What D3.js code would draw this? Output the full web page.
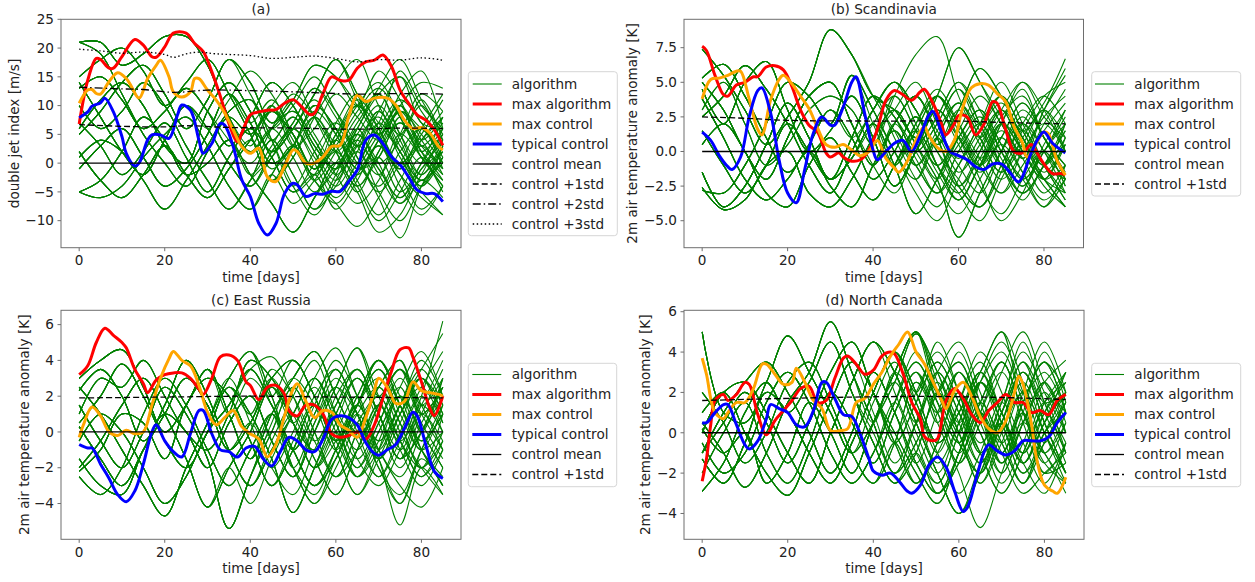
<!DOCTYPE html>
<html>
<head>
<meta charset="utf-8">
<script src="https://cdn.jsdelivr.net/npm/d3@7"></script>
<style>
  body { margin: 0; background: #fff; }
  svg text { font-family: "DejaVu Sans", sans-serif; font-size: 13.6px; fill: #222; }
</style>
</head>
<body>
<svg id="fig" width="1255" height="582"></svg>
<script>
// sampling of the algorithm trajectories (every 5 days)
const days = d3.range(0, 86, 5);
const xTicks = [0, 20, 40, 60, 80];
const meanLine = [[0, 0], [85, 0]];

// ---------- (a) double jet index ----------
const aAlgo = [
  [21, 19, 12, 5, 0, -4, 2, 8, 5, 10, 3, 6, 12, 8, 4, 9, 6, 3],
  [21, 21, 17, 19, 22, 22, 17, 8, 2, 6, 9, 4, -2, 3, 9, 2, -3, 1],
  [15, 18, 20, 16, 10, 14, 18, 12, 5, -3, 1, 8, 14, 18, 10, 5, 11, 4],
  [14, 8, 2, -2, 4, 10, 6, 0, -4, 2, 7, 13, 9, 3, -2, 5, 12, 9],
  [13, 15, 11, 6, 9, 13, 9, 3, 8, 14, 10, 3, -1, 6, 12, 15, 7, 6],
  [10, 6, 9, 14, 10, 3, -3, -8, -3, 4, -2, -8, -4, 2, -5, -10, -4, 0],
  [7, 3, -2, 2, 7, 1, -5, 1, 6, 1, -5, -2, 4, -3, -9, -3, 3, -2],
  [5, 9, 14, 17, 12, 6, 11, 18, 14, 7, 11, 17, 15, 10, 16, 11, 4, 8],
  [2, -3, -6, -2, 3, -2, -6, -1, 4, 9, 5, -1, 5, 10, 4, -2, -6, -9],
  [1, 4, 2, -3, -8, -3, 3, 9, 11, 4, -4, -9, -3, 4, 8, 1, -4, 3],
  [-1, 3, 6, 1, -4, -1, 5, 12, 7, 0, 3, 10, 6, -1, 1, 8, 2, -5],
  [-5, -6, -4, 1, 5, 8, 3, -4, -8, -2, 3, -3, -7, -11, -6, 0, -5, -9],
  [-5, -3, 2, 8, 4, -2, 0, 4, -2, -7, -12, -6, 0, -5, -12, -9, -3, -6],
  [6, 11, 14, 10, 3, 0, 9, 14, 9, 2, 6, 12, 18, 12, 5, 10, 14, 13]
];
// cloned trajectories: parent index, day of branching, values from that day on
const aBranch = [
  {p: 4, at: 30, v: [9, 4, 0, 6, 12, 8, 2, -4, 2, 9, 5, 0]},
  {p: 7, at: 35, v: [18, 12, 6, 10, 15, 9, 3, 7, 16, 10, 6]},
  {p: 1, at: 35, v: [8, 3, 9, 4, -3, 2, 8, 12, 5, -2, 3]},
  {p: 3, at: 40, v: [-4, 1, 6, 0, -6, -1, 5, 10, 4, -1]},
  {p: 10, at: 40, v: [7, 11, 5, -1, 3, 9, 13, 8, 2, 6]},
  {p: 9, at: 45, v: [4, 8, 2, -5, 0, 6, 11, 7, 1]},
  {p: 0, at: 45, v: [10, 14, 8, 2, 7, 13, 18, 11, 5]},
  {p: 6, at: 50, v: [-5, 0, 6, 1, -6, -13, -4, 2]},
  {p: 13, at: 50, v: [6, 1, -4, 2, 9, 3, -2, 4]},
  {p: 8, at: 55, v: [-1, 7, 12, 6, 0, 5, 11]},
  {p: 5, at: 55, v: [-8, -2, 5, 0, -7, -2, 6]},
  {p: 2, at: 55, v: [8, 3, -2, 4, 10, 3, 7]},
  {p: 4, at: 60, v: [-1, 5, 10, 4, -3, 3]},
  {p: 11, at: 60, v: [-7, -2, 3, -4, -9, -4]},
  {p: 12, at: 65, v: [-5, 2, 7, 1, -4]},
  {p: 7, at: 65, v: [10, 4, -1, 6, 12]},
  {p: 10, at: 70, v: [1, -5, 0, 8]},
  {p: 13, at: 70, v: [5, 12, 16, 6]},
  {p: 1, at: 60, v: [-2, -7, -3, 5, 1, -4]},
  {p: 3, at: 30, v: [6, 11, 16, 12, 5, -1, 4, 10, 14, 8, 1, -3]},
  {p: 8, at: 40, v: [4, -1, 3, 8, 2, -4, 1, 7, 2, -2]},
  {p: 2, at: 45, v: [-3, 3, 9, 5, -1, 4, 9, 3, -1]},
  {p: 11, at: 45, v: [-2, -7, -3, 2, -4, -10, -5, 1, -3]},
  {p: 12, at: 40, v: [-2, 3, 8, 2, -3, 3, -1, -6, 0, 5]},
  {p: 5, at: 40, v: [-3, 1, 6, 11, 5, 0, 7, 2, -4, 1]},
  {p: 0, at: 50, v: [3, -2, 4, 10, 6, -1, 4, 9]},
  {p: 9, at: 50, v: [-4, 2, 7, 1, -5, 0, 6, -1]},
  {p: 6, at: 55, v: [-2, -8, -3, 3, -2, -8, -4]},
  {p: 3, at: 55, v: [13, 8, 3, 9, 15, 9, 4]},
  {p: 7, at: 50, v: [11, 5, 0, 6, 12, 5, 0, 5]},
  {p: 10, at: 60, v: [6, 0, -4, 2, 6, 0]},
  {p: 13, at: 60, v: [18, 11, 5, 0, 4, 8]},
  {p: 1, at: 45, v: [6, 1, -5, 0, 5, -1, -6, -1, 4]},
  {p: 4, at: 65, v: [6, 0, 4, 10, 3]},
  {p: 8, at: 60, v: [5, 11, 7, 2, -3, 1]},
  {p: 12, at: 55, v: [-6, -1, 4, -2, -7, -1, 2]}
];
const aMaxAlgo = [[0, 6.8], [2, 14.4], [4, 18.2], [5, 18.0], [7, 16.5], [8, 16.5], [10, 18.5], [13, 21.5], [15, 20.5],
  [17, 18.5], [18, 18.4], [20, 20.2], [22, 22.6], [25, 22.6], [27, 20.8], [29, 19.4], [31, 15.9], [33, 11.6], [35, 6.9],
  [37, 3.7], [38, 5.2], [40, 8.4], [42, 8.9], [44, 9.2], [46, 9.3], [48, 10.4], [50, 11.0], [52, 9.8], [54, 8.4], [55, 8.7],
  [57, 12.1], [59, 15.0], [61, 14.4], [63, 14.4], [65, 16.5], [67, 17.6], [69, 17.9], [71, 18.8], [73, 16.8], [75, 12.7],
  [77, 10.4], [79, 8.4], [81, 7.5], [83, 5.8], [85, 3.1]];
const aMaxCtrl = [[0, 10.4], [2, 12.7], [3, 12.8], [4, 12.1], [5, 12.0], [7, 14.2], [9, 15.7], [11, 14.7], [12, 13.6],
  [14, 11.3], [16, 14.7], [18, 17.0], [19, 17.9], [21, 15.0], [22, 12.4], [24, 11.5], [26, 12.4], [27, 14.7], [28, 14.7],
  [30, 12.7], [32, 11.0], [34, 8.7], [36, 5.8], [38, 2.9], [40, 1.7], [42, 2.6], [44, -2.4], [46, -3.2], [48, -0.6],
  [50, 2.3], [51, 2.0], [53, 0], [55, 0], [57, 1.1], [59, 2.9], [61, 3.1], [63, 8.1], [65, 11.8], [67, 10.7], [69, 11.3],
  [72, 11.3], [74, 10.1], [76, 7.5], [78, 6.0], [80, 6.2], [82, 5.2], [84, 2.9], [85, 2.3]];
const aTypical = [[0, 7.9], [2, 8.9], [3, 9.9], [5, 10.5], [6, 11.3], [8, 8.9], [10, 4.6], [11, 1.7], [13, -0.5], [14, 0],
  [16, 4.0], [17, 4.9], [19, 4.9], [21, 4.3], [23, 8.4], [24, 10.1], [26, 9.2], [28, 4.0], [29, 1.7], [31, 3.4], [33, 6.9],
  [34, 6.6], [36, 2.9], [38, -2.9], [40, -5.8], [42, -10.5], [44, -12.5], [46, -10.5], [48, -5.3], [50, -3.5], [51, -3.8],
  [53, -5.8], [55, -5.3], [57, -5.4], [59, -4.9], [61, -4.9], [63, -3.2], [65, -1.2], [67, 4.0], [69, 4.9], [71, 3.4],
  [73, 1.1], [75, -0.3], [77, -2.4], [79, -4.7], [81, -5.3], [83, -5.3], [85, -6.7]];
const aStd1 = [[0, 6.7], [10, 6.4], [20, 6.3], [25, 6.5], [35, 6.2], [50, 6.1], [65, 5.9], [75, 6.1], [85, 6.0]];
const aStd2 = [[0, 13.2], [10, 12.9], [15, 12.8], [22, 12.3], [30, 12.7], [40, 12.6], [50, 12.4], [65, 12.0], [75, 12.1], [85, 12.0]];
const aStd3 = [[0, 19.8], [5, 19.5], [10, 19.1], [15, 19.3], [20, 18.9], [22, 18.4], [25, 19.0], [28, 19.3], [32, 19.0],
  [40, 18.7], [45, 18.2], [50, 18.4], [55, 18.6], [60, 18.2], [65, 17.6], [70, 18.0], [75, 17.9], [80, 18.3], [85, 17.9]];

// ---------- (b) Scandinavia ----------
const bAlgo = [
  [7.4, 5.5, 3, 0.5, 2.5, 5, 8.8, 7, 4, 3, 1, 4, 7.5, 5, 2, 0, 3, 5.5],
  [5.3, 6.3, 4, 1, -1.5, 0.5, 3, 1, -2, 0, 2.5, -1, -3, 0, 3, 1, -2, -1],
  [5, 3, 0, -2, 1, 4, 5, 2, -1, 2, 4, 1, -2.5, -4, -1, 2, 4, 2],
  [3.8, 1, -2, -3.5, -2, 0, -2.5, -4, -1, 1.5, -1, -3, 0, 2, -0.5, -3, -1, 1.5],
  [2.5, 4, 6.2, 4.5, 2, -1, -3, 0, 3, 5, 3, 0.5, 3, 6, 4, 1.5, 3.5, 6.7],
  [1.5, -1, -3, -1, 2, 0, -2, 1, 4, 2.5, 0, 2, 4.5, 2, -1, -3.5, -1, 0.5],
  [-1.5, -4, -2.5, 0.5, 3.5, 1, -2, -0.5, 2, -1, -4.5, -2, 1, -2, -5, -3, 0, -2.5],
  [-2.6, -4.2, -3.5, -1, 0, -3, -4, -2, 1, 3, 0.5, -2, -6.2, -3, 0, 2, -1, -3.5],
  [-2.8, -3, -1, 2, 5, 4, 2, 5.5, 3, 0, -2, 1, 3.5, 1, -1.5, 1, 3, 0],
  [4.5, 2, 5, 6.5, 3, 0, 1.5, 4, 1, -2.5, 0, 3, 1, -1, 2, 4.5, 1, -1],
  [0.5, 2, 0, -3, -4, -1, 1, -1.5, -3.5, -1, 1.5, -1, -3.5, -1, 1, -1.5, -4, -2],
  [3, 5, 2, -1, 0.5, 3, 4, 3, 0.5, 4, 7, 8.3, 4, 1, 3, 0, -2, 1]
];
const bBranch = [
  {p: 1, at: 35, v: [1, 3, 5, 2, -1, 1.5, 4, 2, -0.5, 2, 4.5]},
  {p: 2, at: 35, v: [2, -1, -3, 0, 2.5, 5, 3, 0, -2.5, 0, 2]},
  {p: 3, at: 40, v: [-1, 2, 4, 1.5, -1, -3, 0, 3, 1, -2]},
  {p: 5, at: 40, v: [4, 1, -2, -4, -1, 2, 5, 2, -1, -3.5]},
  {p: 6, at: 45, v: [-1, 2, 4.5, 2, -1, 1, 3.5, 1, -1.5]},
  {p: 8, at: 45, v: [0, -3, -5, -2, 1, 3, 0, -2, -4]},
  {p: 9, at: 50, v: [0, 2.5, 5, 2, -1, 1.5, 4, 5]},
  {p: 4, at: 50, v: [3, 0, -2, -4, -1.5, 2, 0, -3]},
  {p: 10, at: 50, v: [1.5, 4, 2, -0.5, 2, 5, 3, 0]},
  {p: 0, at: 55, v: [4, 1, -1.5, 1, 3.5, 1, -2]},
  {p: 7, at: 55, v: [-2, 1, 3, 0.5, -2, 0, 2.5]},
  {p: 2, at: 60, v: [-2.5, 0, 2.5, 4, 1, -1]},
  {p: 1, at: 60, v: [-3, -5, -2, 0.5, -2, -4]},
  {p: 5, at: 65, v: [2, 4, 1.5, -1, 1]},
  {p: 3, at: 65, v: [2, -1, -3, -1, 2]},
  {p: 9, at: 70, v: [2, -0.5, 3, 6]},
  {p: 4, at: 70, v: [4, 1, -1, 2]},
  {p: 6, at: 60, v: [1, 3, 0, -2, -4, -1]},
  {p: 8, at: 35, v: [5.5, 2, -1, 1.5, 4, 2, -0.5, -3, -1, 1.5, 3.5]},
  {p: 10, at: 40, v: [-3.5, -1, 2, 4, 1.5, -1, -3, 0, 2, 0]},
  {p: 0, at: 40, v: [4, 1.5, -1, 1, 3.5, 1.5, -1, -3, -1, 1.5]},
  {p: 2, at: 45, v: [2, -0.5, -3, -1, 1.5, 3.5, 1, -1.5, 0.5]},
  {p: 6, at: 40, v: [2, 4, 1.5, -1.5, -3.5, -1, 2, 0.5, -2, -3]},
  {p: 7, at: 45, v: [3, 5, 2, -0.5, 2, 4, 1.5, -1, -2]},
  {p: 11, at: 45, v: [4, 1.5, -1, 1, 3, 0.5, -2, 0, 3]},
  {p: 3, at: 50, v: [-1, 1.5, 3.5, 1, -1.5, 0.5, 3, 1]},
  {p: 9, at: 55, v: [3, 0.5, -2.5, -4.5, -2, 0, -2.5]},
  {p: 5, at: 50, v: [0, -2.5, -4.5, -2, 0.5, -1.5, -3.5, -2]},
  {p: 8, at: 55, v: [1, -1.5, 0.5, 3, 5, 2.5, 1]},
  {p: 4, at: 60, v: [3, 0.5, -2, 0, 2.5, 4]},
  {p: 10, at: 60, v: [-3.5, -1, 1.5, -0.5, -3, -1]},
  {p: 1, at: 45, v: [0, 2.5, 0, -2.5, -0.5, 2, 0, -2.5, -4]},
  {p: 0, at: 65, v: [5, 2.5, 0, -2, 0.5]},
  {p: 6, at: 55, v: [-2, 0.5, 2.5, 0, -2.5, 0.5, 3]},
  {p: 2, at: 70, v: [-1, 1.5, -1, -3]},
  {p: 7, at: 65, v: [-3, 0, 2.5, 0, -2]}
];
const bMaxAlgo = [[0, 7.6], [1, 7.3], [3, 5.5], [5, 4.1], [6, 4.0], [8, 4.8], [10, 5.0], [12, 5.4], [13, 5.4], [15, 6.1],
  [17, 6.2], [19, 5.9], [21, 4.7], [23, 3.0], [25, 1.9], [27, 1.4], [29, -0.1], [30, -0.4], [32, -0.1], [33, -0.4],
  [35, -0.7], [37, -0.6], [39, 0.1], [41, 1.6], [43, 3.7], [45, 4.4], [47, 4.1], [49, 3.7], [51, 4.3], [52, 4.5],
  [54, 3.5], [56, 2.0], [57, 1.2], [59, 2.0], [60, 2.6], [62, 2.5], [64, 1.2], [66, 2.0], [68, 3.6], [69, 3.5], [71, 1.6],
  [73, 0], [75, -0.1], [77, 0.5], [78, 0.1], [80, -0.9], [82, -1.6], [84, -1.6], [85, -1.7]];
const bMaxCtrl = [[0, 3.8], [2, 5.2], [4, 5.3], [6, 5.5], [8, 5.8], [9, 5.8], [11, 3.8], [13, 1.6], [14, 1.2], [16, 3.7],
  [18, 5.2], [19, 5.5], [21, 4.9], [23, 4.0], [25, 3.1], [27, 1.7], [29, 0.5], [31, 0.3], [33, 0.5], [35, 0.1], [37, -0.3],
  [39, 0], [41, 0.8], [43, -0.5], [45, -1.2], [46, -1.5], [48, -0.7], [50, 0.8], [52, 1.8], [53, 1.2], [55, 0.3], [57, 0],
  [59, 0.8], [61, 3.2], [63, 4.6], [65, 4.9], [67, 4.8], [69, 4.2], [71, 3.6], [73, 1.8], [75, 0.6], [76, -0.4], [78, 0.5],
  [80, 1.4], [81, 1.3], [83, -0.6], [85, -1.7]];
const bTypical = [[0, 1.4], [2, 0.8], [4, -0.3], [6, -1.1], [7, -1.3], [9, -0.4], [11, 2.5], [13, 4.4], [14, 4.6], [16, 2.8],
  [18, -0.6], [20, -3.0], [22, -3.7], [24, -1.3], [26, 1.3], [28, 2.5], [30, 1.9], [31, 1.9], [33, 3.2], [35, 5.0], [36, 5.4],
  [38, 2.8], [40, 0.1], [41, -0.6], [43, 0], [45, 0.6], [47, 0.8], [49, 0], [51, 1.1], [53, 2.6], [54, 2.9], [56, 1.4],
  [58, 0], [60, -0.3], [62, -0.6], [64, -1.1], [66, -1.3], [68, -0.9], [70, -0.9], [72, -1.5], [74, -2.2], [75, -1.8],
  [77, -0.1], [79, 1.1], [80, 1.4], [82, 0.6], [84, 0.1], [85, -0.1]];
const bStd1 = [[0, 2.5], [10, 2.4], [20, 2.25], [40, 2.2], [60, 2.2], [70, 2.1], [85, 2.0]];

// ---------- (c) East Russia ----------
const cAlgo = [
  [3, 4, 4.6, 2.5, 0, 1.5, 3.5, 1, -1.5, 1, 3, 4.5, 2, 0, 2.5, 4, 1.5, 3],
  [2.5, 1, -1, -3, -4.7, -2, 0.5, 3, 4.5, 2, -1, 1, 3.5, 1, -1.5, 1, 3, 0.5],
  [2.3, 3.5, 2, -0.5, 1.5, 4, 2, -1, -3, -1, 1, 3, 0.5, -2, 0, 2.5, 4.5, 2],
  [1.5, -0.5, -2, 0, 2.5, 1, -1.5, -5.4, -2.5, 0, 2.5, 0, -2.5, -1, 1.5, -1, -3, -1],
  [0.5, 2, 3.8, 2, -0.5, -2, 0, 2.5, 1, -1.5, -4.5, -2, 1, 3, 0.5, -2, 0.5, 2.5],
  [0.3, -1.5, -3, -1, 1, 3, 1.5, -1, 0.5, 3, 4, 2, -0.5, 1.5, 4, 2, -0.5, 1],
  [-0.5, 1, 0, -2, -4, -2.5, 0, 1.5, 3.5, 1.5, -1, -3, -1.5, 1, -1.5, -5.2, -2, -3.5],
  [-1.5, -3, -3.5, -1, 1, 0, -2, 0.5, 2, -0.5, -2.5, 0, 2.5, 4.7, 2, -0.5, 1.5, 4],
  [-2, -0.5, 1.5, 3, 1, -1.5, -4.2, -2, 0, 2.5, 0.5, -2, 0, 2, -1, 1.5, 3.5, 1.5],
  [-2.2, -1, 1, 0.5, -1.5, 1.5, 3, 2, -0.5, -3, -1, 1.5, -1, -3.5, -1, 2, 0, -2],
  [1, 3, 2.5, 4, 2, 0, -1, 1, 4, 3, 0.5, -1, 2, 3.5, 1, -1, 2, 6.2],
  [-2.5, -3.5, -2, 1, 3, 1.5, -1, -3, -1, 1, -2, -4, -1.5, 0.5, -2, -4, -1.5, -3]
];
const cBranch = [
  {p: 0, at: 35, v: [1, 3, 1.5, -1, 1.5, 4, 2, -0.5, 1.5, 3.5, 5.5]},
  {p: 1, at: 35, v: [3, 0.5, -2, 0, 2.5, 0, -2.5, -1, 1.5, 3, 1]},
  {p: 2, at: 40, v: [-3, -0.5, 2, 4, 1, -1.5, 0.5, 3, 0.5, -1.5]},
  {p: 4, at: 40, v: [1, 3.5, 2, -0.5, -2.5, 0, 2.5, 4, 1, 2.5]},
  {p: 5, at: 45, v: [3, 0.5, -2, -0.5, 2, 4, 1.5, -1, 0]},
  {p: 3, at: 45, v: [0, -2, -3.5, -1, 1.5, -1, -3, -4.2, -2]},
  {p: 7, at: 50, v: [-2.5, 0.5, 3, 1, -2, -3.5, -1, 1]},
  {p: 8, at: 50, v: [0.5, 3, 4.7, 2, -0.5, 1.5, 4, 2]},
  {p: 9, at: 50, v: [-1, 1.5, -0.5, -2.5, 0, 2, -1, -3]},
  {p: 6, at: 55, v: [-3, -1, 1.5, 3, 0.5, -2, -0.5]},
  {p: 10, at: 55, v: [-1, 1.5, 3.5, 1, -1.5, 0, 3]},
  {p: 11, at: 55, v: [-4, -2, 0.5, 2, -0.5, -2, 0]},
  {p: 0, at: 60, v: [2, -0.5, -2.5, 0, 2.5, 4.5]},
  {p: 5, at: 60, v: [-0.5, 2, 4, 1.5, -1, -2.5]},
  {p: 2, at: 65, v: [-2, 0.5, 2.5, 0, 3]},
  {p: 4, at: 65, v: [3, 1, -1.5, 1, -0.5]},
  {p: 1, at: 70, v: [-1.5, -4, -1, 1.5]},
  {p: 7, at: 70, v: [2, 3.5, 1, 2.5]},
  {p: 8, at: 35, v: [-2, -4, -1.5, 1, 3, 1, -1, 1.5, 3.5, 1, -1]},
  {p: 6, at: 40, v: [3.5, 4.2, 2, -0.5, 1.5, 3.5, 1, -1.5, 0, 2]},
  {p: 0, at: 45, v: [1, -1, -3, -1, 1.5, 3.5, 1, -1, 1.5]},
  {p: 1, at: 45, v: [2, 4, 2, -0.5, 1.5, -1, -2.5, 0, 2.5]},
  {p: 3, at: 40, v: [-2.5, 0.5, 3, 1.5, -1, 1.5, 3.5, 1.5, -0.5, 1]},
  {p: 5, at: 40, v: [0.5, -2, -3.5, -1, 1, -1.5, -3, -1, 1.5, 0]},
  {p: 9, at: 45, v: [-3, -0.5, 2, 3.5, 1, -1.5, 1, 3, 1]},
  {p: 10, at: 45, v: [3, 1, -1.5, -3.5, -1, 1.5, -0.5, -2.5, -0.5]},
  {p: 11, at: 50, v: [-2, 0.5, 2.5, 0, -2.5, -0.5, 2, 0]},
  {p: 2, at: 50, v: [1, -1.5, -3.5, -1, 1.5, 3.5, 1.5, -1]},
  {p: 4, at: 55, v: [-2, 0.5, 3, 1, -1.5, 1, 3.5]},
  {p: 6, at: 60, v: [-1.5, 1, 2.5, 0, -2, -3.5]},
  {p: 7, at: 55, v: [0, 2.5, 1, -1.5, 0.5, 3, 1.5]},
  {p: 8, at: 60, v: [0, -2.5, -0.5, 2, 0, -2]},
  {p: 3, at: 60, v: [-2.5, 0, 2, -0.5, -2.5, -1]},
  {p: 0, at: 65, v: [0, 2.5, 0.5, -2, 1]},
  {p: 9, at: 65, v: [-3.5, -1.5, 1, 2.5, 0.5]},
  {p: 5, at: 70, v: [4, 1.5, -1, -3]}
];
const cMaxAlgo = [[0, 3.2], [2, 3.7], [4, 5.0], [6, 5.8], [8, 5.4], [10, 5.0], [11, 4.7], [13, 3.5], [15, 2.7], [16, 2.2],
  [18, 2.9], [20, 3.2], [22, 3.3], [24, 3.3], [26, 3.0], [28, 2.4], [29, 2.1], [31, 3.0], [33, 4.2], [35, 4.3], [37, 4.0],
  [39, 2.8], [40, 2.6], [42, 1.8], [44, 2.5], [46, 2.6], [48, 2.1], [49, 1.2], [51, 0.9], [53, 1.5], [55, 1.5], [57, 1.0],
  [59, -0.1], [61, -0.3], [63, -0.2], [65, 0], [67, -0.4], [69, 0.4], [71, 1.9], [73, 3.4], [75, 4.6], [77, 4.7], [78, 4.2],
  [80, 2.8], [82, 1.3], [83, 0.9], [85, 2.0]];
const cMaxCtrl = [[0, -0.3], [1, 0.4], [3, 1.4], [5, 0.9], [7, 0], [9, -0.2], [11, 0.1], [13, -0.1], [15, 0], [17, 1.5],
  [19, 3.0], [21, 4.1], [22, 4.5], [24, 4.0], [26, 3.7], [28, 2.6], [30, 1.1], [32, 0.4], [34, 0.8], [36, 1.2], [38, 0.3],
  [40, -0.1], [42, -0.4], [44, -1.4], [46, -0.7], [48, 0.9], [50, 2.4], [51, 2.7], [53, 1.7], [55, 0.8], [57, 1.2], [59, 1.1],
  [61, 0.4], [63, 0.1], [65, -0.3], [67, 0.8], [69, 2.3], [70, 3.0], [72, 2.5], [74, 1.6], [76, 1.7], [78, 2.8], [80, 2.3],
  [82, 2.2], [84, 2.1], [85, 2.0]];
const cTypical = [[0, -0.7], [2, -0.9], [3, -0.9], [5, -1.8], [7, -2.6], [9, -3.5], [11, -3.9], [13, -3.3], [15, -1.8],
  [17, 0], [18, 0.4], [20, -0.5], [22, -1.1], [24, -1.4], [26, -0.1], [28, 1.2], [29, 1.2], [31, -0.1], [33, -1.0], [35, -1.1],
  [37, -1.4], [39, -0.9], [41, -0.8], [43, -1.5], [45, -1.9], [47, -1.1], [49, -0.3], [51, -0.5], [53, -1.0], [55, -1.1],
  [57, -0.4], [59, 0.7], [61, 0.9], [63, 0.8], [65, 0.4], [67, -0.6], [69, -1.2], [70, -1.3], [72, -1.0], [74, -0.7],
  [76, 0.2], [78, 1.1], [79, 0.9], [81, -0.7], [83, -2.2], [85, -2.6]];
const cStd1 = [[0, 1.9], [20, 1.95], [40, 2.0], [60, 1.95], [85, 1.9]];

// ---------- (d) North Canada ----------
const dAlgo = [
  [5, 1, 0.5, 2.5, 4.8, 3, 1, -1, 0.5, 2.5, 4.9, 3, 0.5, -1.5, 1, 3.5, 1.5, 2],
  [1, 2, 0, -2, -3.1, -1, 1.5, 3.5, 2, -0.5, 1.5, 3.5, 1.5, -1, 1.5, 4, 2, 0],
  [0.5, -1, -2.7, -1, 1.5, 3, 5.5, 3, 0.5, -2, -0.5, 2, 3.5, 1, -2, 0.5, 2.5, 3.6],
  [0, 2, 2.5, 1, -1, -2.5, 0, 2.5, 4.5, 3, 0.5, -2, -4, -2, 0.5, 3, 1, -1.5],
  [-0.5, -2, -1, 1.5, 3, 1.5, -1, -2.5, -1, 1.5, 3.5, 1.5, -0.5, 2.5, 4.5, 2, -1, 0.5],
  [-1, 0.5, 2, 0.5, -1.5, 0.5, 3, 4.5, 2, 0, -2, -3.5, -1, 1.5, -0.5, -2.5, -0.5, 1.5],
  [-1.3, -2.5, -0.5, 2, 1, -1, -2.5, -0.5, 2, 4, 2, -0.5, 1, 3, 5, 2.5, 0, -2],
  [-2, 0, 1.5, -1, -2.5, -0.5, 2, 0.5, -1.5, 1, 3, 0.5, -2, -4.7, -2, 0.5, -1, -3],
  [-2.9, -1.5, 1, 2.5, 1, 2.5, 4.5, 2, -0.5, -2.5, -1, 2, 0, -2.5, 0, 2, -0.5, 2],
  [2, 0.5, -1.5, 0, 2.5, 3.5, 1.5, -1, -2.5, -0.5, 2.5, 1, -1.5, 0.5, 3, 5, 2.5, 1],
  [-1, 1, 2.5, 3.5, 2, 0, -2, 0, 3, 1, -1.5, -3, -1.5, 1, -1, -3, -2, -1],
  [0.2, -1, 0, -2.5, -1, 1.5, 0, -2, 0.5, 3, 5, 2, -0.5, -2, 0.5, -1.5, -3, -0.5]
];
const dBranch = [
  {p: 0, at: 35, v: [-1, 1.5, 3.5, 1, -1.5, 0.5, 3, 1, -1, 1.5, 3]},
  {p: 1, at: 35, v: [3.5, 1, -1.5, 0.5, 2.5, 0, -2.5, -0.5, 2, 0, -2]},
  {p: 2, at: 40, v: [0.5, 3, 1.5, -1, 1.5, 4, 2, -1, 1, 2.5]},
  {p: 3, at: 40, v: [4.5, 2, -0.5, -2.5, 0, 2.5, 1, -1.5, 0.5, 2]},
  {p: 4, at: 45, v: [1.5, -1, -2.5, 0, 2.5, 0.5, -2, 0, 1.5]},
  {p: 5, at: 45, v: [0, 2, 4, 2, -0.5, 1.5, 4.5, 1.5, -1]},
  {p: 6, at: 50, v: [2, 4.5, 2, -1, 1, 3, 0.5, -2]},
  {p: 7, at: 50, v: [3, 1, -1.5, 1, 3.5, 1, -1.5, 0.5]},
  {p: 8, at: 50, v: [-1, -3, -1, 1.5, -0.5, -2.5, 0, 1]},
  {p: 9, at: 55, v: [1, 3, 1, -1.5, 0.5, 2.5, 0.5]},
  {p: 10, at: 55, v: [-3, -1, 1.5, 3.5, 1, -1.5, -2.5]},
  {p: 11, at: 55, v: [2, 4, 1.5, -1, 1, -2, -1.5]},
  {p: 0, at: 60, v: [0.5, 2.5, 4, 1.5, -1, 1]},
  {p: 2, at: 60, v: [3.5, 1, -1, 1.5, 3.5, 2]},
  {p: 4, at: 65, v: [2.5, 0, -2.5, 0, 2]},
  {p: 5, at: 65, v: [1.5, 3.5, 1, -1, -2.5]},
  {p: 3, at: 70, v: [0.5, -1.5, 0.5, 3]},
  {p: 6, at: 70, v: [5, 2, 3, 1]},
  {p: 8, at: 35, v: [2, 0, -2, 0.5, 3, 1, -1, -3, -1, 1, -0.5]},
  {p: 1, at: 45, v: [-0.5, -2.5, -0.5, 2, 0, -2, 0.5, 2.5, 0]},
  {p: 0, at: 45, v: [2.5, 0, -2, 0.5, 3, 1, -1.5, 0.5, 2]},
  {p: 2, at: 45, v: [-2, 0.5, 3, 4.5, 2, -0.5, 1.5, 3.5, 1]},
  {p: 3, at: 50, v: [0.5, 3, 1, -1.5, 1, 3.5, 1.5, -1]},
  {p: 4, at: 40, v: [-1, 1.5, 4, 1.5, -1, 1, 3, 0.5, -2, -0.5]},
  {p: 5, at: 40, v: [2, -0.5, -2.5, -0.5, 2, 0, -2.5, -0.5, 2, 0]},
  {p: 6, at: 45, v: [4, 1.5, -1, -3, -1, 1.5, -0.5, -2.5, -0.5]},
  {p: 9, at: 45, v: [-0.5, -2.5, -1, 1.5, 3.5, 1, -1, 1.5, 2.5]},
  {p: 10, at: 50, v: [-1.5, 1, 3, 0.5, -1.5, 1, 4, 1.5]},
  {p: 11, at: 50, v: [5, 2.5, 0, -2, 0.5, 2.5, 0, -2.5]},
  {p: 7, at: 55, v: [0.5, 3, 1, -1, 2, 4.5, 2]},
  {p: 8, at: 60, v: [0, 2.5, 0.5, -2, -0.5, 1.5]},
  {p: 1, at: 60, v: [1.5, -1, -3, -1, 1.5, -1]},
  {p: 3, at: 60, v: [-4, -1.5, 1, 3, 0.5, -2]},
  {p: 6, at: 65, v: [3, 0.5, -1.5, 1, 3]},
  {p: 10, at: 65, v: [1, -1.5, 1.5, 3.5, 1]},
  {p: 11, at: 70, v: [0.5, 3, 0.5, -2]}
];
const dMaxAlgo = [[0, -2.4], [1, -1.3], [2, 0.4], [3, 1.6], [5, 1.9], [6, 1.6], [8, 1.9], [10, 2.5], [11, 2.4], [13, 0.9],
  [15, -0.1], [17, 0.6], [19, 1.1], [21, 1.6], [23, 2.2], [25, 2.3], [27, 1.5], [29, 1.6], [31, 2.7], [33, 3.7], [34, 3.8],
  [36, 3.4], [38, 2.9], [40, 3.1], [42, 3.8], [44, 4.0], [45, 3.9], [47, 2.9], [49, 1.5], [51, 0.7], [52, -0.2], [54, -0.4],
  [55, -0.3], [57, 1.6], [59, 2.2], [61, 1.7], [63, 0.9], [65, 0.5], [67, 1.1], [69, 1.5], [71, 1.9], [73, 1.5], [75, 1.5],
  [77, 1.0], [79, 1.1], [81, 0.9], [83, 1.6], [85, 1.9]];
const dMaxCtrl = [[0, 3.7], [1, 2.9], [3, 1.0], [5, 0.7], [6, 1.0], [8, 1.5], [10, 1.5], [12, 2.2], [14, 3.4], [15, 3.4],
  [17, 2.9], [19, 2.4], [21, 2.5], [22, 3.2], [24, 2.5], [26, 1.6], [28, 1.2], [30, 0.1], [32, 0.1], [34, 0.2], [36, 1.5],
  [38, 1.7], [40, 2.4], [42, 3.0], [44, 3.8], [46, 4.4], [48, 5.0], [50, 4.0], [52, 3.4], [54, 2.5], [56, 1.6], [57, 1.2],
  [59, 2.1], [61, 2.5], [63, 1.8], [65, 0.8], [67, 0.2], [69, 0], [71, 0.6], [73, 2.0], [74, 2.8], [75, 2.4], [77, 0.4],
  [78, -1.1], [80, -2.6], [82, -2.9], [83, -3.0], [85, -2.2]];
const dTypical = [[0, 0.5], [1, 0.5], [3, 1.0], [5, 1.4], [6, 1.4], [8, 0.4], [10, -0.6], [11, -0.8], [13, -0.4], [15, 0.7],
  [16, 1.4], [18, 1.2], [20, 1.0], [22, 0.4], [24, 0.3], [26, 1.1], [28, 2.5], [29, 2.5], [31, 1.7], [33, 0.9], [35, 0.8],
  [37, -0.1], [39, -1.3], [40, -1.9], [42, -2.1], [44, -2.0], [46, -2.4], [48, -2.9], [49, -3.0], [51, -2.6], [53, -1.6],
  [55, -1.2], [57, -1.7], [59, -2.9], [61, -3.9], [62, -3.7], [64, -2.3], [66, -0.9], [67, -0.6], [69, -0.9], [71, -1.1],
  [73, -0.9], [75, -0.4], [77, -0.4], [79, -0.4], [81, -0.2], [83, 0.5], [85, 1.0]];
const dStd1 = [[0, 1.6], [30, 1.75], [50, 1.8], [70, 1.75], [85, 1.65]];

// ---------- panel layout ----------
const panels = [
  {title: '(a)', ylabel: 'double jet index [m/s]', labelX: 14,
   box: {x0: 61, x1: 461, y0: 19.3, y1: 247.7}, yDomain: [-14.7, 25],
   yTicks: [-10, -5, 0, 5, 10, 15, 20, 25], fmt: d3.format('d'),
   algo: aAlgo, branch: aBranch, maxAlgo: aMaxAlgo, maxCtrl: aMaxCtrl, typical: aTypical,
   std: [aStd1, aStd2, aStd3],
   legend: {x0: 468.3, x1: 617.3, y0: 71.7, y1: 235.7, lx: 472.7, tx: 511.7, ty: 84}},
  {title: '(b) Scandinavia', ylabel: '2m air temperature anomaly [K]', labelX: 632,
   box: {x0: 684, x1: 1083.5, y0: 19.3, y1: 247.7}, yDomain: [-6.95, 9.55],
   yTicks: [-5, -2.5, 0, 2.5, 5, 7.5], fmt: d3.format('.1f'),
   algo: bAlgo, branch: bBranch, maxAlgo: bMaxAlgo, maxCtrl: bMaxCtrl, typical: bTypical,
   std: [bStd1],
   legend: {x0: 1091.7, x1: 1240.7, y0: 71.7, y1: 196, lx: 1095, tx: 1134.3, ty: 84}},
  {title: '(c) East Russia', ylabel: '2m air temperature anomaly [K]', labelX: 24,
   box: {x0: 61, x1: 461, y0: 310.3, y1: 539.3}, yDomain: [-6.0, 6.8],
   yTicks: [-4, -2, 0, 2, 4, 6], fmt: d3.format('d'),
   algo: cAlgo, branch: cBranch, maxAlgo: cMaxAlgo, maxCtrl: cMaxCtrl, typical: cTypical,
   std: [cStd1],
   legend: {x0: 468.3, x1: 616.7, y0: 363.3, y1: 486.7, lx: 472.3, tx: 511.7, ty: 374.5}},
  {title: '(d) North Canada', ylabel: '2m air temperature anomaly [K]', labelX: 645,
   box: {x0: 684, x1: 1084, y0: 310.3, y1: 539.3}, yDomain: [-5.28, 6.07],
   yTicks: [-4, -2, 0, 2, 4, 6], fmt: d3.format('d'),
   algo: dAlgo, branch: dBranch, maxAlgo: dMaxAlgo, maxCtrl: dMaxCtrl, typical: dTypical,
   std: [dStd1],
   legend: {x0: 1091.7, x1: 1240.7, y0: 363.3, y1: 486.7, lx: 1095, tx: 1134.3, ty: 374.5}}
];

const stdDash = ['6,3', '8,3,1.5,3', '1.5,2.5'];
const stdNames = ['control +1std', 'control +2std', 'control +3std'];
const spineColor = '#6e6e6e';

const svg = d3.select('#fig');

// expand a cloned trajectory into [day, value] pairs (parent part + own part)
function branchPoints(parent, br) {
  const head = parent.slice(0, br.at / 5).map((v, i) => [days[i], v]);
  const tail = br.v.map((v, i) => [br.at + 5 * i, v]);
  return head.concat(tail);
}

function drawPanel(cfg, idx) {
  const b = cfg.box;
  const x = d3.scaleLinear().domain([-4.25, 89.25]).range([b.x0, b.x1]);
  const y = d3.scaleLinear().domain(cfg.yDomain).range([b.y1, b.y0]);
  const g = svg.append('g');

  g.append('clipPath').attr('id', 'clip' + idx)
    .append('rect')
    .attr('x', b.x0).attr('y', b.y0)
    .attr('width', b.x1 - b.x0).attr('height', b.y1 - b.y0);

  const plot = g.append('g').attr('clip-path', `url(#clip${idx})`);
  const line = d3.line()
    .x(d => x(d[0])).y(d => y(d[1]))
    .curve(d3.curveCatmullRom.alpha(0.5));

  // algorithm ensemble
  const series = cfg.algo.map(vals => vals.map((v, i) => [days[i], v]))
    .concat(cfg.branch.map(br => branchPoints(cfg.algo[br.p], br)));
  plot.selectAll('path.algo')
    .data(series)
    .enter().append('path')
    .attr('class', 'algo')
    .attr('d', line)
    .attr('fill', 'none')
    .attr('stroke', 'green')
    .attr('stroke-width', 1.1);

  // highlighted trajectories
  [[cfg.maxAlgo, 'red'], [cfg.maxCtrl, 'orange'], [cfg.typical, 'blue']].forEach(([pts, col]) => {
    plot.append('path')
      .attr('d', line(pts))
      .attr('fill', 'none')
      .attr('stroke', col)
      .attr('stroke-width', 3)
      .attr('stroke-linejoin', 'round');
  });

  // control mean and std lines
  plot.append('path')
    .attr('d', line(meanLine))
    .attr('fill', 'none').attr('stroke', 'black').attr('stroke-width', 1.3);
  cfg.std.forEach((pts, i) => {
    plot.append('path')
      .attr('d', line(pts))
      .attr('fill', 'none').attr('stroke', 'black').attr('stroke-width', 1.3)
      .attr('stroke-dasharray', stdDash[i]);
  });

  // frame
  g.append('rect')
    .attr('x', b.x0).attr('y', b.y0)
    .attr('width', b.x1 - b.x0).attr('height', b.y1 - b.y0)
    .attr('fill', 'none').attr('stroke', spineColor).attr('stroke-width', 1);

  // x ticks
  xTicks.forEach(t => {
    g.append('line')
      .attr('x1', x(t)).attr('x2', x(t))
      .attr('y1', b.y1).attr('y2', b.y1 + 3.5)
      .attr('stroke', spineColor);
    g.append('text')
      .attr('x', x(t)).attr('y', b.y1 + 17.5)
      .attr('text-anchor', 'middle')
      .text(t);
  });

  // y ticks
  cfg.yTicks.forEach(t => {
    g.append('line')
      .attr('x1', b.x0 - 3.5).attr('x2', b.x0)
      .attr('y1', y(t)).attr('y2', y(t))
      .attr('stroke', spineColor);
    g.append('text')
      .attr('x', b.x0 - 7).attr('y', y(t))
      .attr('dy', '0.35em')
      .attr('text-anchor', 'end')
      .text(cfg.fmt(t));
  });

  // labels and title
  g.append('text')
    .attr('x', (b.x0 + b.x1) / 2).attr('y', b.y1 + 34)
    .attr('text-anchor', 'middle')
    .text('time [days]');
  g.append('text')
    .attr('transform', `translate(${cfg.labelX},${(b.y0 + b.y1) / 2}) rotate(-90)`)
    .attr('dy', '0.35em')
    .attr('text-anchor', 'middle')
    .text(cfg.ylabel);
  g.append('text')
    .attr('x', (b.x0 + b.x1) / 2).attr('y', b.y0 - 5)
    .attr('text-anchor', 'middle')
    .text(cfg.title);

  // legend
  const L = cfg.legend;
  const items = [
    {name: 'algorithm', col: 'green', w: 1.1},
    {name: 'max algorithm', col: 'red', w: 3},
    {name: 'max control', col: 'orange', w: 3},
    {name: 'typical control', col: 'blue', w: 3},
    {name: 'control mean', col: 'black', w: 1.3}
  ].concat(cfg.std.map((s, i) => ({name: stdNames[i], col: 'black', w: 1.3, dash: stdDash[i]})));

  const lg = g.append('g');
  lg.append('rect')
    .attr('x', L.x0).attr('y', L.y0)
    .attr('width', L.x1 - L.x0).attr('height', L.y1 - L.y0)
    .attr('rx', 3)
    .attr('fill', 'white').attr('fill-opacity', 0.85)
    .attr('stroke', '#d6d6d6');
  items.forEach((it, i) => {
    const yy = L.ty + i * 20;
    lg.append('line')
      .attr('x1', L.lx).attr('x2', L.lx + 29)
      .attr('y1', yy).attr('y2', yy)
      .attr('stroke', it.col).attr('stroke-width', it.w)
      .attr('stroke-dasharray', it.dash || null);
    lg.append('text')
      .attr('x', L.tx).attr('y', yy)
      .attr('dy', '0.35em')
      .text(it.name);
  });
}

panels.forEach(drawPanel);
</script>
</body>
</html>
